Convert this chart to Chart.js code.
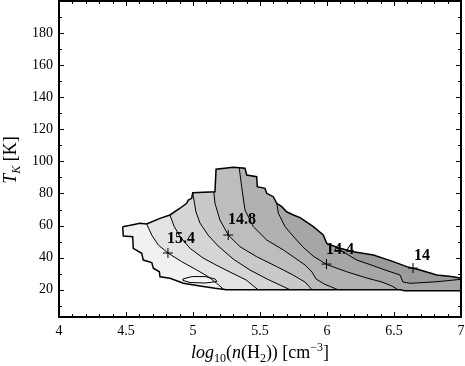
<!DOCTYPE html>
<html>
<head>
<meta charset="utf-8">
<script src="https://cdn.jsdelivr.net/npm/chart.js@4/dist/chart.umd.min.js"></script>
<style>
html, body { margin: 0; padding: 0; background: #fff; }
</style>
</head>
<body>
<canvas id="chart" width="465" height="366"></canvas>
<script>
// tick labels
const xTickValues = [4, 4.5, 5, 5.5, 6, 6.5, 7];
const yTickValues = [20, 40, 60, 80, 100, 120, 140, 160, 180];

// outer edge of the region (top, left to right)
const envTopX = [4.475, 4.543, 4.604, 4.654, 4.754, 4.828, 4.903, 4.953, 4.965, 4.990, 4.998, 5.164, 5.172, 5.301, 5.388, 5.401, 5.475, 5.480, 5.537, 5.550, 5.599, 5.625, 5.662, 5.699, 5.749, 5.799, 5.898, 5.972, 5.998, 6.097, 6.196, 6.346, 6.495, 6.595, 6.694, 6.819, 6.943, 7.0];
const envTopT = [59.3, 60.4, 61.4, 61.0, 64.5, 66.6, 70.8, 73.9, 75.9, 77.0, 80.5, 81.1, 95.1, 96.3, 95.7, 91.5, 90.5, 84.2, 83.2, 80.1, 78.0, 73.9, 71.8, 68.6, 66.6, 65.0, 59.3, 54.1, 48.9, 45.8, 43.7, 41.7, 37.5, 34.4, 32.3, 29.2, 28.1, 27.1];
// outer edge (bottom, left to right)
const envBotX = [4.480, 4.550, 4.554, 4.617, 4.629, 4.692, 4.704, 4.749, 4.754, 4.828, 4.928, 5.052, 5.164, 5.25, 6.55, 6.58, 7.0];
const envBotT = [53.5, 53.1, 45.8, 42.7, 38.5, 36.9, 33.4, 31.2, 28.1, 27.1, 24.0, 22.3, 20.9, 20, 20, 19.3, 19.3];

// contour lines, from top edge down
const c154X = [4.654, 4.692, 4.741, 4.816, 4.916, 5.028, 5.114, 5.177, 5.231];
const c154T = [61.0, 54.1, 47.9, 42.7, 37.5, 32.3, 28.1, 24.0, 20];
const c152X = [4.828, 4.858, 4.903, 4.978, 5.075, 5.172, 5.291, 5.396, 5.485];
const c152T = [66.6, 59.7, 53.1, 45.8, 39.8, 35.4, 30.4, 26.1, 20];
const c150X = [4.998, 5.022, 5.052, 5.112, 5.187, 5.299, 5.425, 5.552, 5.724];
const c150T = [80.5, 68.5, 61.6, 54.1, 47.3, 39.2, 32.3, 26.7, 20];
const c148X = [5.155, 5.164, 5.201, 5.263, 5.351, 5.475, 5.625, 5.746, 5.836, 5.888];
const c148T = [81.0, 73.9, 63.5, 54.1, 46.8, 40.6, 34.4, 29.2, 24.8, 20];
const c146X = [5.345, 5.363, 5.388, 5.450, 5.550, 5.674, 5.761, 5.836, 5.888, 5.918, 5.978, 6.082];
const c146T = [96.0, 84.2, 69.7, 59.3, 51.0, 44.8, 39.8, 35.4, 31.1, 26.7, 23.6, 20];
const c144X = [5.625, 5.637, 5.687, 5.746, 5.821, 5.896, 5.998, 6.147, 6.296, 6.410, 6.485, 6.530];
const c144T = [73.9, 67.7, 59.3, 53.5, 46.6, 41.0, 35.7, 31.2, 27.3, 24.8, 22.3, 20];
const c142X = [6.045, 6.119, 6.222, 6.321, 6.433, 6.545, 6.567, 6.619, 6.821, 7.0];
const c142T = [47.4, 43.7, 38.5, 35.7, 32.3, 29.2, 24.8, 24.0, 25.0, 26.5];

// small closed contour near the bottom
const loopX = [4.925, 4.993, 5.090, 5.164, 5.179, 5.090, 4.978, 4.925];
const loopT = [26.7, 28.2, 28.2, 26.7, 25.1, 24.2, 24.5, 25.8];

// markers and their labels
const crossX = [4.813, 5.263, 5.996, 6.642];
const crossT = [42.9, 54.1, 36.0, 33.5];
const labelText = ['15.4', '14.8', '14.4', '14'];
const labelX = [4.910, 5.366, 6.097, 6.709];
const labelT = [51.6, 63.5, 44.8, 41.0];

const bandColors = ['#f1f1f1', '#e3e3e3', '#d5d5d5', '#c9c9c9', '#bdbdbd', '#b1b1b1', '#a6a6a6', '#9b9b9b'];

function toPts(xs, ys) {
    return xs.map((x, i) => ({x: x, y: ys[i]}));
}

// region right of a contour line, bounded by the outer edge
function bandPolygon(lx, lt) {
    const pts = toPts(lx, lt);
    const lastX = lx[lx.length - 1];
    envBotX.forEach((x, i) => { if (x > lastX + 1e-6) pts.push({x: x, y: envBotT[i]}); });
    for (let i = envTopX.length - 1; i >= 0; i--) {
        if (envTopX[i] > lx[0] + 1e-6) pts.push({x: envTopX[i], y: envTopT[i]});
    }
    return pts;
}

const envelope = toPts(envTopX, envTopT).concat(toPts(envBotX, envBotT).reverse());
const contours = [[c154X, c154T], [c152X, c152T], [c150X, c150T], [c148X, c148T], [c146X, c146T], [c144X, c144T], [c142X, c142T]];

const datasets = [];
datasets.push({data: envelope, fill: 'shape', backgroundColor: bandColors[0], borderColor: 'rgba(0,0,0,0)', order: 100});
contours.forEach((c, k) => {
    datasets.push({data: bandPolygon(c[0], c[1]), fill: 'shape', backgroundColor: bandColors[k + 1], borderColor: 'rgba(0,0,0,0)', order: 99 - k});
});
datasets.push({data: toPts(loopX, loopT).concat([{x: loopX[0], y: loopT[0]}]), fill: 'shape', backgroundColor: '#f6f6f6', borderColor: '#000', borderWidth: 1, order: 50});
contours.forEach(c => {
    datasets.push({data: toPts(c[0], c[1]), borderColor: '#000', borderWidth: 1, fill: false, order: 20});
});
datasets.push({data: envelope.concat([envelope[0]]), borderColor: '#000', borderWidth: 1.5, fill: false, order: 10});
datasets.push({data: toPts(crossX, crossT), showLine: false, pointStyle: 'cross', pointRadius: 5, borderColor: '#000', borderWidth: 1, order: 0});

datasets.forEach(d => {
    if (d.showLine === undefined) d.showLine = true;
    if (d.pointRadius === undefined) d.pointRadius = 0;
    d.tension = 0;
    d.pointHoverRadius = 0;
});

function drawRuns(ctx, runs, cx, baseY) {
    let total = 0;
    runs.forEach(r => { ctx.font = r.font; r.w = ctx.measureText(r.t).width; total += r.w; });
    let x = cx - total / 2;
    ctx.textAlign = 'left';
    ctx.textBaseline = 'alphabetic';
    runs.forEach(r => {
        ctx.font = r.font;
        ctx.fillText(r.t, x, baseY + (r.dy || 0));
        x += r.w;
    });
}

const decorPlugin = {
    id: 'decor',
    afterDatasetsDraw(chart) {
        const ctx = chart.ctx;
        const xs = chart.scales.x, ys = chart.scales.y;
        ctx.save();
        ctx.fillStyle = '#000';
        ctx.font = "bold 16px 'Liberation Serif'";
        ctx.textAlign = 'center';
        ctx.textBaseline = 'middle';
        labelText.forEach((t, i) => {
            ctx.fillText(t, xs.getPixelForValue(labelX[i]), ys.getPixelForValue(labelT[i]));
        });
        ctx.restore();
    },
    afterDraw(chart) {
        const ctx = chart.ctx;
        const a = chart.chartArea;
        const xs = chart.scales.x, ys = chart.scales.y;
        ctx.save();
        ctx.strokeStyle = '#000';
        ctx.lineWidth = 1;
        // inward ticks on all four sides
        for (let i = 0; i <= 30; i++) {
            const v = 4 + i / 10;
            const len = (i % 5 === 0) ? 5 : 3;
            const px = Math.round(xs.getPixelForValue(v)) + 0.5;
            ctx.beginPath();
            ctx.moveTo(px, a.bottom); ctx.lineTo(px, a.bottom - len);
            ctx.moveTo(px, a.top); ctx.lineTo(px, a.top + len);
            ctx.stroke();
        }
        for (let v = 10; v < 200; v += 10) {
            const len = (v % 20 === 0) ? 5 : 3;
            const py = Math.round(ys.getPixelForValue(v)) + 0.5;
            ctx.beginPath();
            ctx.moveTo(a.left, py); ctx.lineTo(a.left + len, py);
            ctx.moveTo(a.right, py); ctx.lineTo(a.right - len, py);
            ctx.stroke();
        }
        ctx.lineWidth = 2;
        ctx.strokeRect(a.left, a.top, a.right - a.left, a.bottom - a.top);

        // axis titles
        ctx.fillStyle = '#000';
        const it = "italic 18px 'Liberation Serif'";
        const rm = "18px 'Liberation Serif'";
        const sm = "12px 'Liberation Serif'";
        drawRuns(ctx, [
            {t: 'log', font: it}, {t: '10', font: sm, dy: 4}, {t: '(', font: rm},
            {t: 'n', font: it}, {t: '(H', font: rm}, {t: '2', font: sm, dy: 4},
            {t: ')) [cm', font: rm}, {t: '\u22123', font: sm, dy: -7}, {t: ']', font: rm}
        ], (a.left + a.right) / 2, 358);
        ctx.translate(16, 160);
        ctx.rotate(-Math.PI / 2);
        drawRuns(ctx, [
            {t: 'T', font: it}, {t: 'K', font: "italic 12px 'Liberation Serif'", dy: 4},
            {t: ' [K]', font: rm}
        ], 0, 0);
        ctx.restore();
    }
};

const tickFont = {family: 'Liberation Serif', size: 14};

// keep tick labels from pushing the plot area inwards
function noPad(s) {
    s.paddingTop = 0; s.paddingBottom = 0; s.paddingLeft = 0; s.paddingRight = 0;
}

new Chart(document.getElementById('chart'), {
    type: 'scatter',
    data: {datasets: datasets},
    options: {
        responsive: false,
        animation: false,
        events: [],
        layout: {autoPadding: false, padding: {left: 0, right: 4, top: 1, bottom: 0}},
        plugins: {legend: {display: false}, tooltip: {enabled: false}},
        scales: {
            x: {
                type: 'linear', min: 4, max: 7,
                afterFit: s => { s.height = 49; noPad(s); },
                afterBuildTicks: s => { s.ticks = xTickValues.map(v => ({value: v})); },
                grid: {display: false, drawTicks: false},
                border: {display: false},
                ticks: {font: tickFont, color: '#000', padding: 6, maxRotation: 0, autoSkip: false, callback: v => String(v)}
            },
            y: {
                type: 'linear', min: 3, max: 200,
                afterFit: s => { s.width = 59; noPad(s); },
                afterBuildTicks: s => { s.ticks = yTickValues.map(v => ({value: v})); },
                grid: {display: false, drawTicks: false},
                border: {display: false},
                ticks: {font: tickFont, color: '#000', padding: 6, autoSkip: false, callback: v => String(v)}
            }
        }
    },
    plugins: [decorPlugin]
});
</script>
</body>
</html>
